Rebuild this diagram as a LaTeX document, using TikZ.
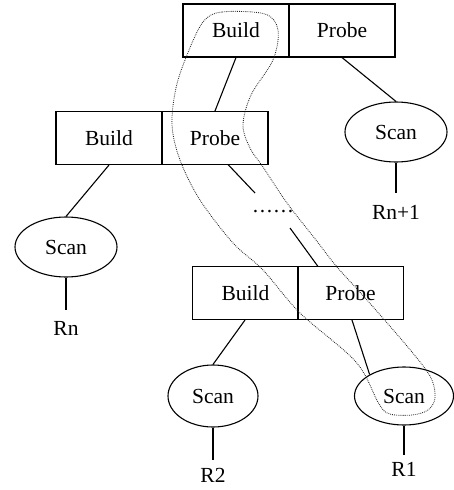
\documentclass[tikz,border=0pt]{standalone}
\usepackage{fontspec}
\setmainfont{Liberation Serif}
\usetikzlibrary{shapes.geometric}
\begin{document}
\begin{tikzpicture}[x=1pt,y=-1pt,
  txt/.style={font=\fontsize{21.5}{25}\selectfont},
  half/.style={txt, draw, line width=1.1pt, minimum width=106pt, minimum height=53pt, inner sep=0pt},
  scan/.style={txt, draw, ellipse, line width=1.1pt, minimum width=102pt, minimum height=60pt, inner sep=0pt},
  lbl/.style={txt, inner sep=0pt},
  link/.style={line width=1.1pt},
  loop/.style={line width=0.85pt, black!85, dash pattern=on 0.8pt off 1.1pt}]
\useasboundingbox (0,0) rectangle (454,490);

% join operators: build / probe halves
\node[half] (b1) at (236,30.5) {Build};
\node[half] (p1) at (342,30.5) {Probe};
\node[half] (b2) at (109,138) {Build};
\node[half] (p2) at (215,138) {Probe};
\node[half] (b3) at (245.5,293) {Build};
\node[half] (p3) at (350.5,293) {Probe};

% scans
\node[scan] (sA) at (396,132) {Scan};
\node[scan] (sL) at (66,247) {Scan};
\node[scan, minimum width=90pt, minimum height=62pt] (s2) at (213,396) {Scan};
\node[scan, minimum width=99pt, minimum height=58pt] (s1) at (404,396) {Scan};

% relation labels
\node[lbl] (rA) at (396,212) {Rn+1};
\node[lbl] (rL) at (66,328) {Rn};
\node[lbl] (r2) at (213,475) {R2};
\node[lbl] (r1) at (404,469) {R1};

\coordinate (eA) at (396,193);
\coordinate (eL) at (66,310);
\coordinate (e2) at (213,460);
\coordinate (e1) at (404,455);

% elided chain of joins
\coordinate (c0) at (228,164.5);
\coordinate (c1) at (255,193);
\coordinate (c2) at (290,228);
\coordinate (c3) at (318,266.5);
\node[txt, inner sep=0pt] (dots) at (273,212) {.\kern1.6pt.\kern1.6pt.\kern1.6pt.\kern1.6pt.\kern1.6pt.};

% connectors
\draw[link] (b1.south) -- (p2.north);
\draw[link] (p1.south) -- (sA.north);
\draw[link] (sA.south) -- (eA);
\draw[link] (b2.south) -- (sL.north);
\draw[link] (sL.south) -- (eL);
\draw[link] (c0) -- (c1);
\draw[link] (c2) -- (c3);
\draw[link] ([xshift=-0.5pt]b3.south) -- (s2.north);
\draw[link] (s2.south) -- (e2);
\draw[link] ([xshift=1.5pt]p3.south) -- (s1.148);
\draw[link] (s1.south) -- (e1);

% dotted outline of the right-deep pipeline
\draw[loop] plot[smooth cycle, tension=0.55] coordinates {
  (203,22) (222,12) (265,14) (278,30) (273,60) (251,95) (243,125) (250,148)
  (263,167) (287,203) (316,240) (337,267) (367,300) (412,352) (431,378)
  (435,398) (428,410) (412,415) (390,414) (379,404) (356,362) (300,313)
  (263,270) (233,243) (200,200) (180,160) (172,125) (176,88) (187,55)};
\end{tikzpicture}
\end{document}
